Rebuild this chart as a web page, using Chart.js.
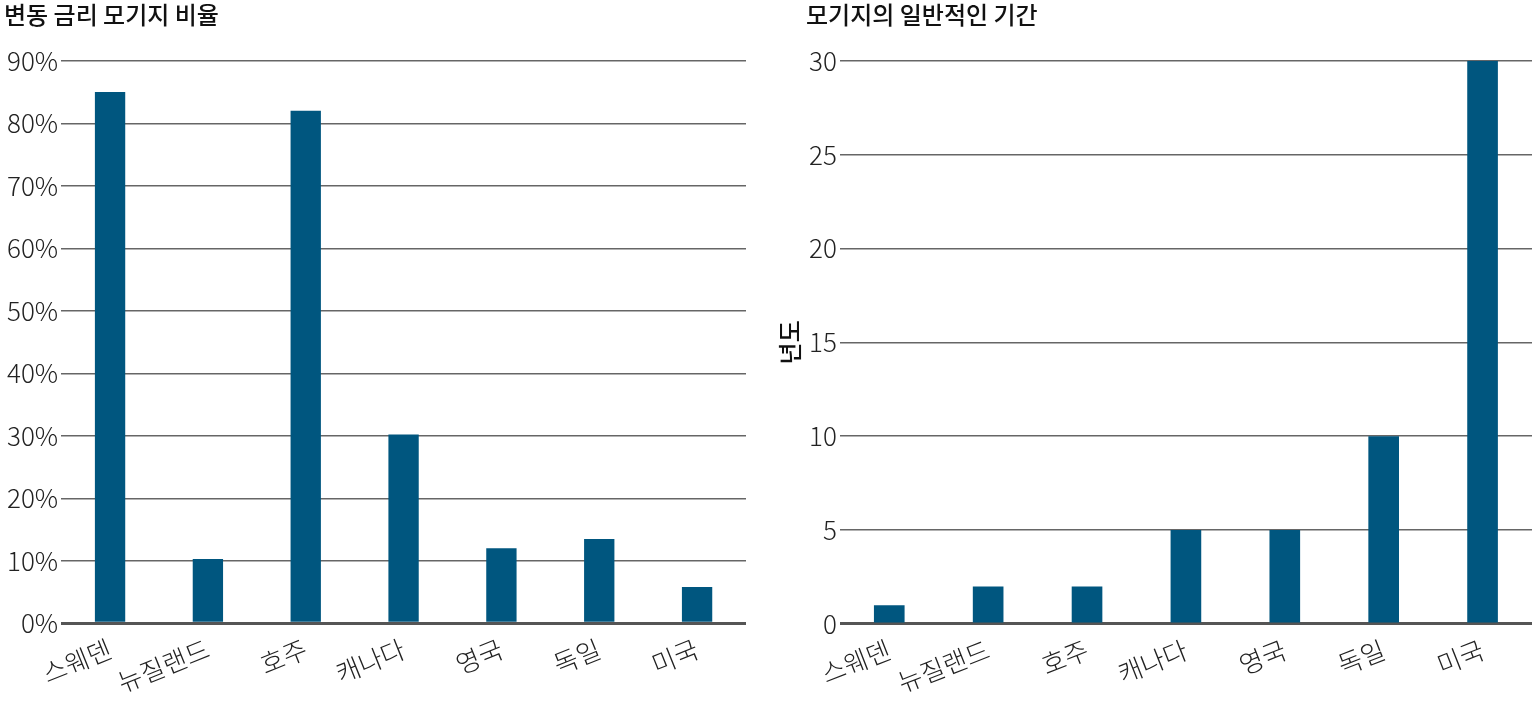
<!DOCTYPE html>
<html><head><meta charset="utf-8">
<script src="https://cdn.jsdelivr.net/npm/chart.js"></script>
<style>
body{margin:0;background:#fff;overflow:hidden;}
.box{position:absolute;top:0;height:720px;}
</style></head>
<body>
<div class="box" style="left:4px;width:742px"><canvas id="c1"></canvas></div>
<div class="box" style="left:776px;width:756px"><canvas id="c2"></canvas></div>
<script>
var countries = ['스웨덴','뉴질랜드','호주','캐나다','영국','독일','미국'];
var adjustableShare = [85, 10.3, 82, 30.2, 12, 13.5, 5.8];
var typicalTerm = [1, 2, 2, 5, 5, 10, 30];
var leftTicks = [0,10,20,30,40,50,60,70,80,90];
var rightTicks = [0,5,10,15,20,25,30];

var FONT = "'Noto Sans CJK KR', 'Noto Sans', sans-serif";
var BAR = '#00567f';

// y axis title, drawn beside the tick labels
var sideTitle = {
  id: 'sideTitle',
  afterDraw: function(chart, args, opts){
    if(!opts.text) return;
    var ctx = chart.ctx;
    ctx.save();
    ctx.translate(opts.x, (chart.chartArea.top + chart.chartArea.bottom) / 2);
    ctx.rotate(-Math.PI / 2);
    ctx.font = '500 24px ' + FONT;
    ctx.fillStyle = '#111';
    ctx.textAlign = 'center';
    ctx.textBaseline = 'middle';
    ctx.fillText(opts.text, 0, 0);
    ctx.restore();
  }
};

function makeChart(id, title, values, ticks, max, fmt, axisTitle, leftPad){
  return new Chart(document.getElementById(id), {
    type: 'bar',
    data: {labels: countries, datasets: [{data: values, backgroundColor: BAR, barPercentage: 0.31, categoryPercentage: 1}]},
    plugins: [sideTitle],
    options: {
      responsive: true, maintainAspectRatio: false, animation: false,
      layout: {padding: {left: leftPad, right: 0, bottom: 20}},
      plugins: {
        legend: {display: false}, tooltip: {enabled: false},
        title: {display: true, text: title, align: 'start', color: '#111',
          font: {family: FONT, size: 24, weight: '500'}, padding: {top: 0, bottom: 32}},
        sideTitle: {text: axisTitle, x: 14}
      },
      scales: {
        x: {
          grid: {display: false}, border: {display: false},
          ticks: {color: '#222', font: {family: FONT, size: 26, weight: '300'}, padding: 2}
        },
        y: {
          min: 0, max: max,
          afterBuildTicks: function(ax){ ax.ticks = ticks.map(function(v){ return {value: v}; }); },
          grid: {drawTicks: false,
            color: function(c){ return c.tick && c.tick.value === 0 ? '#555' : '#666'; },
            lineWidth: function(c){ return c.tick && c.tick.value === 0 ? 3 : 1.5; }},
          border: {display: false},
          ticks: {color: '#222', padding: 3, font: {family: FONT, size: 26, weight: '300'},
            callback: function(v){ return fmt(v); }}
        }
      }
    }
  });
}

makeChart('c1', '변동 금리 모기지 비율', adjustableShare, leftTicks, 90, function(v){ return v + '%'; }, '', 0);
makeChart('c2', '모기지의 일반적인 기간', typicalTerm, rightTicks, 30, function(v){ return v; }, '년도', 30);
</script>
</body></html>
